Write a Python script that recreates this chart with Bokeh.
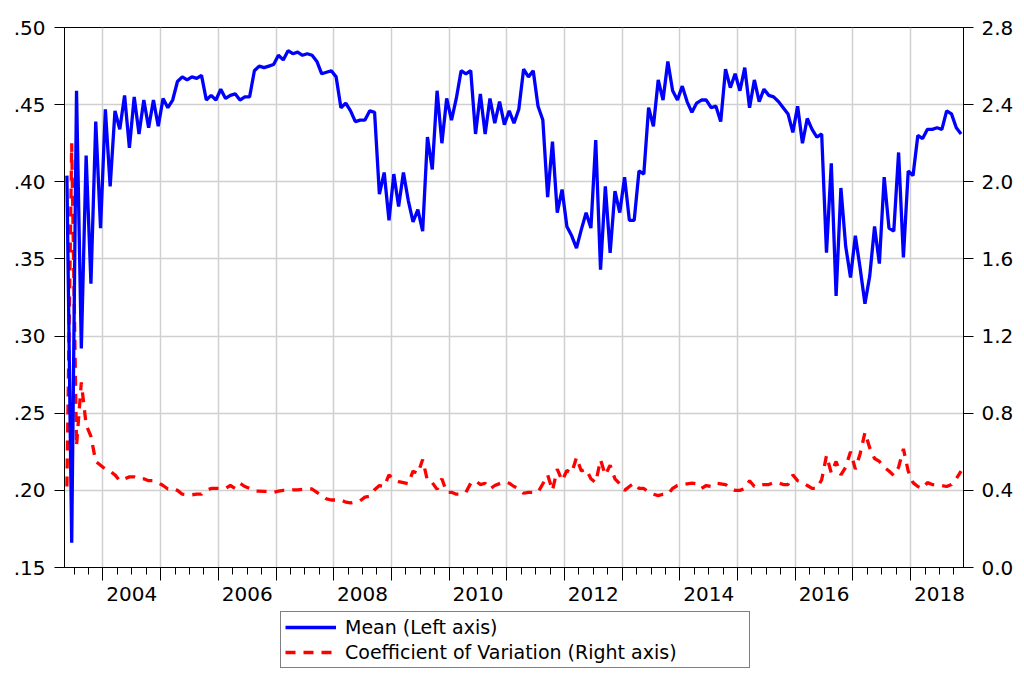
from bokeh.plotting import figure
from bokeh.models import (Range1d, LinearAxis, FixedTicker, CustomJSTickFormatter,
                          Legend, LegendItem, ColumnDataSource, Grid)
from bokeh.layouts import column
from bokeh.embed import file_html
from bokeh.resources import INLINE

# ---------------- data (monthly, 2003M05 .. 2018M11) ----------------
START_YEAR = 2003
START_MONTH = 5

mean = [
    .404, .166, .459, .292, .417, .334, .439, .370, .447, .397,
    .446, .434, .456, .422, .455, .431, .453, .435, .453, .436,
    .454, .448, .453, .465, .468, .466, .468, .467, .469, .453,
    .456, .453, .460, .454, .456, .457, .453, .455, .455, .472,
    .475, .474, .475, .476, .482, .479, .485, .483, .484, .482,
    .483, .482, .478, .470, .471, .472, .468, .448, .451, .446,
    .439, .440, .440, .446, .445, .392, .406, .375, .405, .384,
    .406, .388, .374, .382, .368, .429, .408, .459, .425, .454,
    .440, .454, .472, .470, .472, .431, .457, .431, .454, .438,
    .452, .437, .446, .438, .447, .473, .468, .472, .449, .440,
    .390, .426, .380, .395, .371, .365, .357, .369, .380, .370,
    .427, .343, .397, .354, .394, .380, .403, .375, .375, .407,
    .405, .448, .436, .466, .453, .478, .459, .453, .462, .452,
    .445, .451, .453, .453, .448, .449, .439, .473, .461, .470,
    .459, .474, .448, .466, .452, .460, .456, .455, .452, .448,
    .444, .432, .449, .425, .441, .434, .429, .431, .354, .412,
    .326, .396, .358, .338, .365, .344, .321, .339, .371, .347,
    .403, .370, .368, .419, .351, .407, .404, .430, .428, .434,
    .434, .435, .434, .446, .444, .435, .431,
]

cv = [
    0.42, 2.20, 0.63, 0.96, 0.74, 0.68, 0.55, 0.53, 0.51, 0.50,
    0.48, 0.45, 0.46, 0.47, 0.47, 0.46, 0.46, 0.45, 0.45, 0.44,
    0.425, 0.407, 0.41, 0.40, 0.38, 0.377, 0.377, 0.38, 0.38, 0.40,
    0.41, 0.41, 0.41, 0.41, 0.425, 0.41, 0.437, 0.42, 0.41, 0.396,
    0.396, 0.395, 0.395, 0.39, 0.396, 0.40, 0.40, 0.403, 0.403, 0.405,
    0.407, 0.407, 0.39, 0.373, 0.356, 0.35, 0.35, 0.351, 0.339, 0.335,
    0.34, 0.346, 0.365, 0.37, 0.403, 0.425, 0.42, 0.48, 0.455, 0.445,
    0.44, 0.434, 0.50, 0.486, 0.56, 0.45, 0.44, 0.405, 0.46, 0.39,
    0.39, 0.38, 0.38, 0.39, 0.437, 0.45, 0.43, 0.437, 0.407, 0.425,
    0.435, 0.445, 0.437, 0.42, 0.408, 0.385, 0.39, 0.39, 0.39, 0.434,
    0.48, 0.40, 0.51, 0.45, 0.503, 0.49, 0.57, 0.50, 0.51, 0.46,
    0.44, 0.558, 0.48, 0.53, 0.46, 0.434, 0.40, 0.42, 0.437, 0.41,
    0.41, 0.39, 0.38, 0.373, 0.38, 0.38, 0.41, 0.425, 0.43, 0.434,
    0.437, 0.434, 0.41, 0.425, 0.42, 0.437, 0.434, 0.43, 0.41, 0.40,
    0.40, 0.41, 0.45, 0.42, 0.425, 0.43, 0.43, 0.44, 0.44, 0.43,
    0.43, 0.48, 0.45, 0.44, 0.425, 0.41, 0.41, 0.455, 0.58, 0.49,
    0.55, 0.48, 0.52, 0.60, 0.51, 0.59, 0.70, 0.62, 0.565, 0.55,
    0.52, 0.50, 0.477, 0.52, 0.615, 0.50, 0.44, 0.42, 0.41, 0.44,
    0.43, 0.43, 0.425, 0.42, 0.43, 0.46, 0.50,
]

left_ticks = [0.15, 0.20, 0.25, 0.30, 0.35, 0.40, 0.45, 0.50]
right_ticks = [0.0, 0.4, 0.8, 1.2, 1.6, 2.0, 2.4, 2.8]
year_ticks = list(range(2004, 2019))
label_years = list(range(2004, 2019, 2))
legend_labels = ["Mean (Left axis)", "Coefficient of Variation (Right axis)"]

# ---------------- build ----------------
FONT = "DejaVu Sans"
BLUE, RED = "#0000ff", "#ff0000"
DASH = "10 8"
LW = 3.3
n = len(mean)
x0 = START_YEAR + (START_MONTH - 1) / 12.0
x1 = x0 + n / 12.0
xs = [x0 + (i + 0.5) / 12.0 for i in range(n)]
src = ColumnDataSource(dict(x=xs, mean=mean, cv=cv))

W = 1016
p = figure(width=W, height=611, output_backend="svg", toolbar_location=None,
           x_range=Range1d(x0, x1), y_range=Range1d(left_ticks[0], left_ticks[-1]),
           x_axis_location=None, y_axis_location=None,
           min_border_left=64, min_border_right=50, min_border_top=27,
           min_border_bottom=44)
p.center = [r for r in p.center if not isinstance(r, Grid)]
p.extra_y_ranges = {"cv": Range1d(right_ticks[0], right_ticks[-1])}
p.background_fill_color = "white"
p.border_fill_color = "white"
p.outline_line_color = "black"
p.outline_line_width = 1

GRID = "#d0d0d0"
p.add_layout(Grid(dimension=0, ticker=FixedTicker(ticks=year_ticks),
                  grid_line_color=GRID, grid_line_width=1.5))
p.add_layout(Grid(dimension=1, ticker=FixedTicker(ticks=left_ticks),
                  grid_line_color=GRID, grid_line_width=1.5))

common = dict(major_label_text_font=FONT, major_label_text_font_size="20px",
              major_label_text_color="black", axis_line_color="black",
              major_tick_line_color="black", minor_tick_line_color="black",
              major_tick_in=0, minor_tick_in=0)

ly = LinearAxis(ticker=FixedTicker(ticks=left_ticks),
                formatter=CustomJSTickFormatter(code="return tick.toFixed(2).replace(/^0/, '');"),
                major_tick_out=10, minor_tick_out=0, major_label_standoff=9, **common)
p.add_layout(ly, "left")

ry = LinearAxis(y_range_name="cv", ticker=FixedTicker(ticks=right_ticks),
                formatter=CustomJSTickFormatter(code="return tick.toFixed(1);"),
                major_tick_out=10, minor_tick_out=0, major_label_standoff=8, **common)
p.add_layout(ry, "right")

# x axis 1: long year ticks + short quarter ticks (its own labels are not painted)
quarters = [y + q for y in range(START_YEAR, 2019) for q in (0.25, 0.5, 0.75)
            if x0 < y + q < x1]
xa = LinearAxis(ticker=FixedTicker(ticks=year_ticks, minor_ticks=quarters),
                major_tick_out=13, minor_tick_out=7, major_label_standoff=0,
                **{**common, "major_label_text_color": None,
                   "major_label_text_font_size": "1px"})
p.add_layout(xa, "below")

# x axis 2: labels centred on the even years
xa2 = LinearAxis(ticker=FixedTicker(ticks=[y + 0.5 for y in label_years]),
                 formatter=CustomJSTickFormatter(code="return Math.floor(tick).toString();"),
                 major_tick_out=0, minor_tick_out=0, major_label_standoff=6,
                 **{**common, "axis_line_color": None, "major_tick_line_color": None,
                    "minor_tick_line_color": None})
p.add_layout(xa2, "below")

r_cv = p.line("x", "cv", source=src, y_range_name="cv", line_color=RED,
              line_width=LW, line_dash=DASH)
r_mean = p.line("x", "mean", source=src, line_color=BLUE, line_width=LW)

# ---------------- legend strip below the chart ----------------
q = figure(width=W, height=668 - 611, output_backend="svg", toolbar_location=None,
           x_range=Range1d(0, 1), y_range=Range1d(0, 1),
           x_axis_location=None, y_axis_location=None,
           min_border_left=0, min_border_right=0, min_border_top=0, min_border_bottom=0)
q.center = [r for r in q.center if not isinstance(r, Grid)]
q.outline_line_color = None
q.background_fill_color = "white"
q.border_fill_color = "white"
# legend-only renderers: their points lie outside the strip's ranges
lg_mean = q.line(x=[-3, -2], y=[-3, -2], line_color=BLUE, line_width=LW)
lg_cv = q.line(x=[-3, -2], y=[-3, -2], line_color=RED, line_width=LW, line_dash=DASH)

legend = Legend(items=[LegendItem(label=legend_labels[0], renderers=[lg_mean]),
                       LegendItem(label=legend_labels[1], renderers=[lg_cv])],
                location=(216, 0), orientation="vertical",
                border_line_color="black", border_line_width=1,
                background_fill_color="white", background_fill_alpha=1,
                padding=4, spacing=3, margin=0,
                glyph_width=51, glyph_height=20, label_standoff=9, label_width=400,
                label_text_font=FONT, label_text_font_size="19px",
                label_text_color="black")
q.add_layout(legend, "center")

open("out.html", "w").write(file_html(column(p, q, spacing=0), INLINE))
